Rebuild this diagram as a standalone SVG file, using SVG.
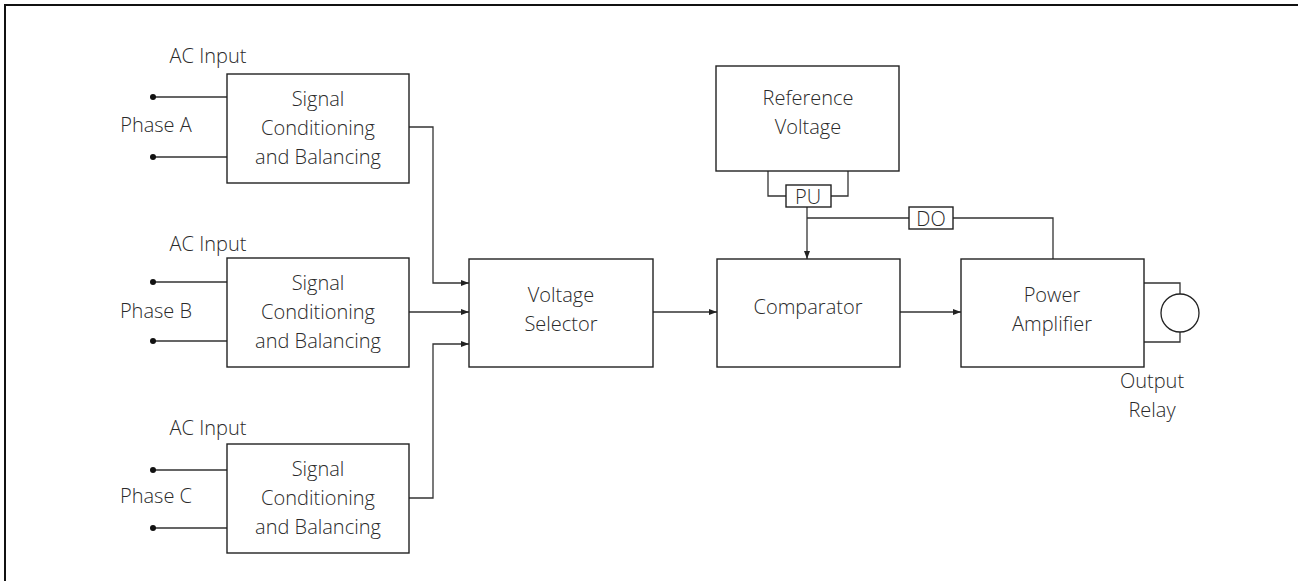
<svg xmlns="http://www.w3.org/2000/svg" width="1298" height="581" viewBox="0 0 1298 581">
<style>
.box{fill:#fff;stroke:#222;stroke-width:1.4}
.ln{fill:none;stroke:#333;stroke-width:1.3}
text{font-family:"Open Sans","Liberation Sans",sans-serif;font-weight:300;font-size:20px;fill:#2a2a2a;text-anchor:middle}
.dot{fill:#111}
</style>
<defs>
<marker id="arr" viewBox="0 0 8 6" refX="8" refY="3" markerWidth="8" markerHeight="6" markerUnits="userSpaceOnUse" orient="auto">
<path d="M0,0 L8,3 L0,6 z" fill="#222"/>
</marker>
</defs>
<rect x="5" y="5" width="1300" height="590" fill="none" stroke="#111" stroke-width="2"/>

<g id="connectors">
<path class="ln" d="M153,97 H227 M153,157 H227"/>
<path class="ln" d="M409,127 H433 V283 H469" marker-end="url(#arr)"/>
<path class="ln" d="M153,282 H227 M153,341 H227"/>
<path class="ln" d="M409,312 H469" marker-end="url(#arr)"/>
<path class="ln" d="M153,470 H227 M153,528 H227"/>
<path class="ln" d="M409,498 H433 V344 H469" marker-end="url(#arr)"/>
<path class="ln" d="M653,312 H717" marker-end="url(#arr)"/>
<path class="ln" d="M900,312 H961" marker-end="url(#arr)"/>
<path class="ln" d="M768,171 V196 H786 M848,171 V196 H831"/>
<path class="ln" d="M807,207 V259" marker-end="url(#arr)"/>
<path class="ln" d="M807,218 H909 M953,218 H1053 V259"/>
<path class="ln" d="M1144,283 H1180 V294 M1180,332 V342 H1144"/>
</g>

<g id="dots">
<circle class="dot" cx="153" cy="97" r="3"/>
<circle class="dot" cx="153" cy="157" r="3"/>
<circle class="dot" cx="153" cy="282" r="3"/>
<circle class="dot" cx="153" cy="341" r="3"/>
<circle class="dot" cx="153" cy="470" r="3"/>
<circle class="dot" cx="153" cy="528" r="3"/>
</g>

<g id="inputA">
<text x="208" y="63">AC Input</text>
<text x="156" y="132">Phase A</text>
</g>
<g id="inputB">
<text x="208" y="251">AC Input</text>
<text x="156" y="318">Phase B</text>
</g>
<g id="inputC">
<text x="208" y="435">AC Input</text>
<text x="156" y="503">Phase C</text>
</g>

<g id="scA">
<rect class="box" x="227" y="74" width="182" height="109"/>
<text x="318" y="106">Signal</text>
<text x="318" y="135">Conditioning</text>
<text x="318" y="164">and Balancing</text>
</g>
<g id="scB">
<rect class="box" x="227" y="258" width="182" height="109"/>
<text x="318" y="290">Signal</text>
<text x="318" y="319">Conditioning</text>
<text x="318" y="348">and Balancing</text>
</g>
<g id="scC">
<rect class="box" x="227" y="444" width="182" height="109"/>
<text x="318" y="476">Signal</text>
<text x="318" y="505">Conditioning</text>
<text x="318" y="534">and Balancing</text>
</g>

<g id="selector">
<rect class="box" x="469" y="259" width="184" height="108"/>
<text x="561" y="302">Voltage</text>
<text x="561" y="331">Selector</text>
</g>

<g id="comparator">
<rect class="box" x="717" y="259" width="183" height="108"/>
<text x="808" y="314">Comparator</text>
</g>

<g id="poweramp">
<rect class="box" x="961" y="259" width="183" height="108"/>
<text x="1052" y="302">Power</text>
<text x="1052" y="331">Amplifier</text>
</g>

<g id="reference">
<rect class="box" x="716" y="66" width="183" height="105"/>
<text x="808" y="105">Reference</text>
<text x="808" y="134">Voltage</text>
</g>

<g id="pu">
<rect class="box" x="786" y="185" width="45" height="22"/>
<text x="808" y="204">PU</text>
</g>

<g id="do">
<rect class="box" x="909" y="207" width="44" height="22"/>
<text x="931" y="226">DO</text>
</g>

<g id="relay">
<circle cx="1180" cy="313" r="19" fill="#fff" stroke="#222" stroke-width="1.3"/>
<text x="1152" y="388">Output</text>
<text x="1152" y="417">Relay</text>
</g>
</svg>
